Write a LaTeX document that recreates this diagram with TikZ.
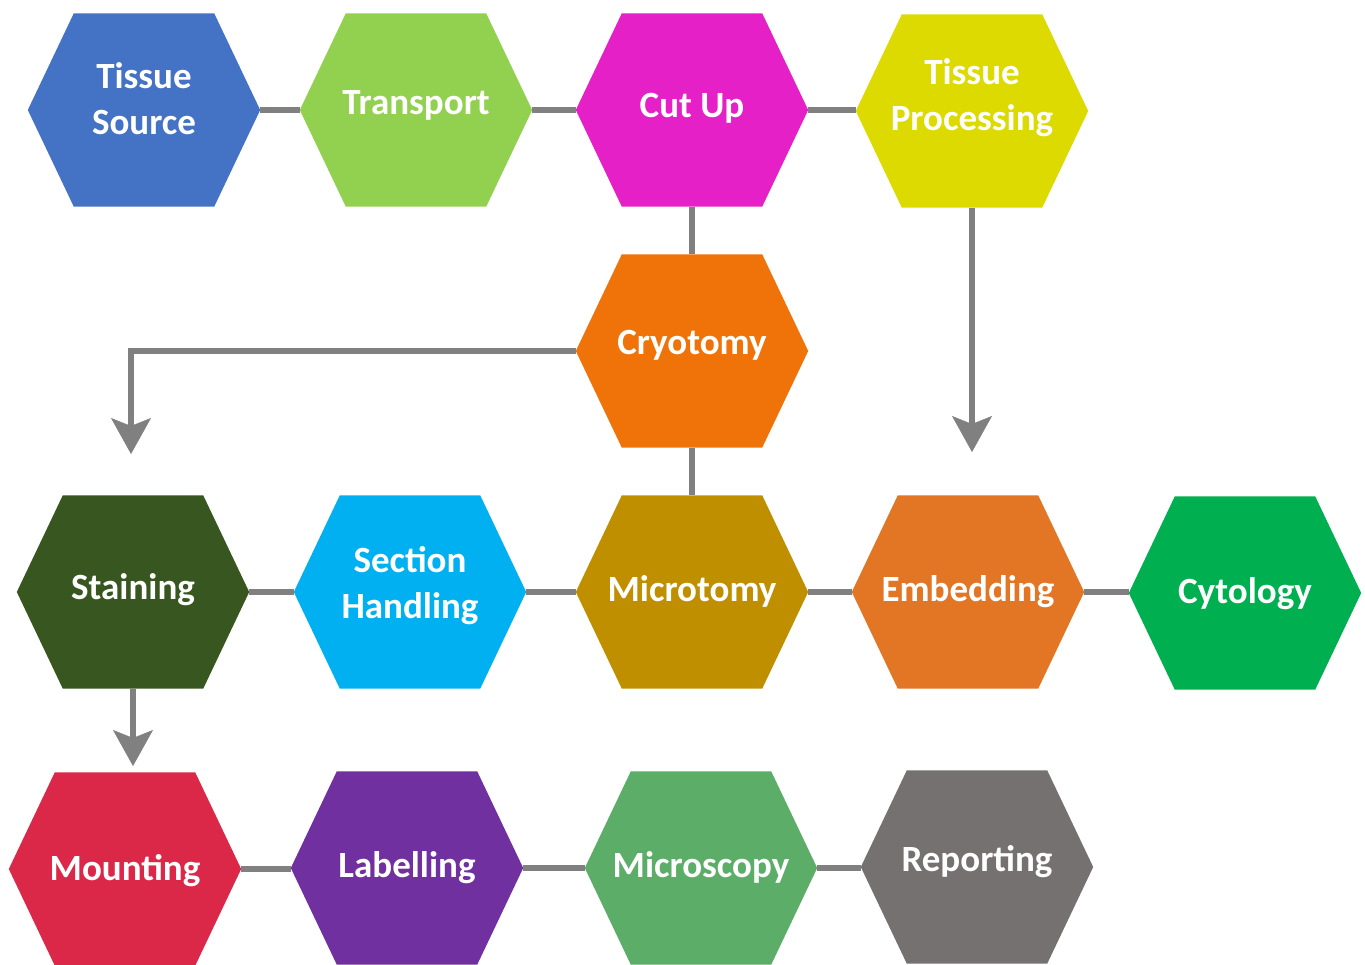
\documentclass[tikz,border=0pt]{standalone}
\usepackage{fontspec}
\setmainfont{Carlito}
\usetikzlibrary{arrows.meta}
\pgfdeclarelayer{bg}
\pgfsetlayers{bg,main}
\definecolor{cTS}{HTML}{4472C4}
\definecolor{cTR}{HTML}{92D050}
\definecolor{cCU}{HTML}{E520C6}
\definecolor{cTP}{HTML}{DCDA00}
\definecolor{cCR}{HTML}{F07309}
\definecolor{cST}{HTML}{38561F}
\definecolor{cSH}{HTML}{00B0F0}
\definecolor{cMI}{HTML}{BF8F00}
\definecolor{cEM}{HTML}{E27624}
\definecolor{cCY}{HTML}{00B050}
\definecolor{cMO}{HTML}{DC2848}
\definecolor{cLA}{HTML}{7030A0}
\definecolor{cMS}{HTML}{5BAD68}
\definecolor{cRE}{HTML}{767171}
\definecolor{linegray}{HTML}{808080}
\newcommand\hxt[2]{\raisebox{\dimexpr#1pt-9pt\relax}[0pt][0pt]{\begin{tabular}{@{}c@{}}#2\end{tabular}}}
\begin{document}
\begin{tikzpicture}[x=1pt,y=-1pt,
  hexnode/.style={minimum width=232pt, minimum height=193pt, inner sep=0pt,
    text=white, font=\fontsize{37}{46}\selectfont\bfseries},
  conn/.style={draw=linegray, line width=6.5pt},
  arr/.style={conn, -{Stealth[length=36pt,width=40pt,inset=8pt,line width=0.5pt]}}]
\useasboundingbox (0,0) rectangle (1365,965);
\begin{pgfonlayer}{bg}
\fill[white] (0,0) rectangle (1365,965);
\end{pgfonlayer}
% row 1
\node[hexnode] (ts) at (144,110) {\hxt{10}{Tissue\\Source}};
\node[hexnode] (tr) at (416,110) {\hxt{7}{Transport}};
\node[hexnode] (cu) at (692,110) {\hxt{4}{Cut Up}};
\node[hexnode] (tp) at (972,111) {\hxt{15}{Tissue\\Processing}};
% row 2
\node[hexnode] (cr) at (692,351) {\hxt{8}{Cryotomy}};
% row 3
\node[hexnode] (st) at (133,592) {\hxt{4}{Staining}};
\node[hexnode] (sh) at (410,592) {\hxt{8}{Section\\Handling}};
\node[hexnode] (mi) at (692,592) {\hxt{2}{Microtomy}};
\node[hexnode] (em) at (968,592) {\hxt{2}{Embedding}};
\node[hexnode] (cy) at (1245,593) {\hxt{1}{Cytology}};
% row 4
\node[hexnode] (mo) at (125,869) {\hxt{0}{Mounting}};
\node[hexnode] (la) at (407,868) {\hxt{2}{Labelling}};
\node[hexnode] (ms) at (701,868) {\hxt{2}{Microscopy}};
\node[hexnode] (re) at (977,867) {\hxt{7}{Reporting}};
\begin{pgfonlayer}{bg}
\foreach \n/\c in {ts/cTS,tr/cTR,cu/cCU,tp/cTP,cr/cCR,st/cST,sh/cSH,mi/cMI,em/cEM,cy/cCY,mo/cMO,la/cLA,ms/cMS,re/cRE}{
  \fill[\c] ([xshift=46pt]\n.north west) -- ([xshift=-46pt]\n.north east) -- (\n.east)
    -- ([xshift=-46pt]\n.south east) -- ([xshift=46pt]\n.south west) -- (\n.west) -- cycle;
}
\end{pgfonlayer}
% arrow targets
\coordinate (crEnd) at (131,454);
\coordinate (tpEnd) at (972,452);
\coordinate (stEnd) at (133,766);
% connectors
\draw[conn] (ts.east) -- (tr.west);
\draw[conn] (tr.east) -- (cu.west);
\draw[conn] (cu.east) -- (cu.east -| tp.west);
\draw[conn] (cu.south) -- (cr.north);
\draw[conn] (cr.south) -- (mi.north);
\draw[conn] (st.east) -- (sh.west);
\draw[conn] (sh.east) -- (mi.west);
\draw[conn] (mi.east) -- (em.west);
\draw[conn] (em.east) -- (em.east -| cy.west);
\draw[conn] (mo.east) -- (mo.east -| la.west);
\draw[conn] (la.east) -- (ms.west);
\draw[conn] (ms.east) -- (ms.east -| re.west);
\draw[arr] (cr.west) -| (crEnd);
\draw[arr] (tp.south) -- (tpEnd);
\draw[arr] (st.south) -- (stEnd);
\end{tikzpicture}
\end{document}
